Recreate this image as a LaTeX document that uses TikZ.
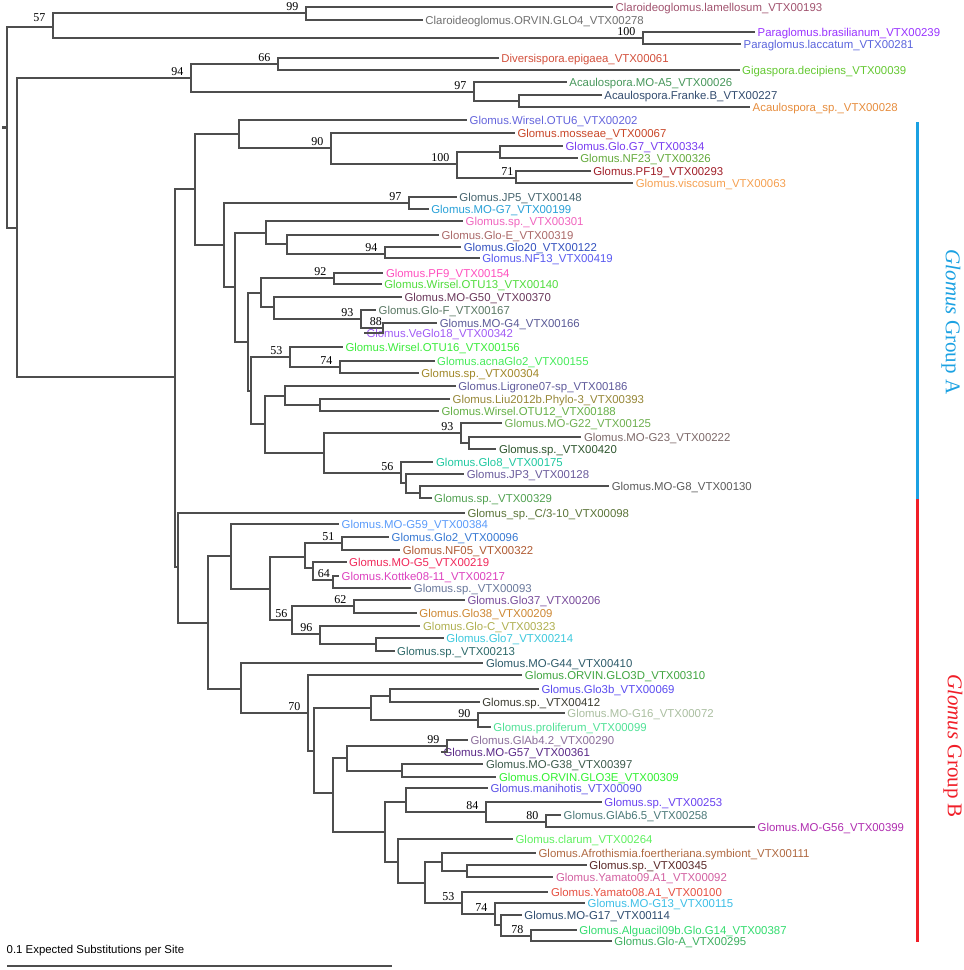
\documentclass[tikz,border=0pt]{standalone}
\usepackage{fontspec}
\setmainfont{Liberation Serif}
\setsansfont{Liberation Sans}
\definecolor{branchgray}{HTML}{4E4E4E}
\definecolor{groupA}{HTML}{1BA1E2}
\definecolor{groupB}{HTML}{F01E28}
\tikzset{
  branch/.style={branchgray,line width=1.8pt},
  leaf/.style={anchor=west,inner xsep=2.5pt,inner ysep=0pt,text height=8.2pt,text depth=0pt,
    font=\sffamily\fontsize{11.4}{12}\selectfont},
  boot/.style={anchor=south east,inner sep=0pt,xshift=-7.5pt,yshift=2pt,font=\fontsize{12}{12}\selectfont},
  grouplbl/.style={rotate=-90,inner sep=0pt,font=\fontsize{21}{21}\selectfont}
}
\begin{document}
\begin{tikzpicture}[x=1pt,y=-1pt]
    \useasboundingbox (0,0) rectangle (964,970);

    \foreach \n/\x/\y in {root/7.3/127, n57/53/26.7, n99a/305.7/13.3, n100a/642.7/37.7,
      nB0/16.7/228.3, n94/191/77.7, n66/277.7/64.3, n97a/474.3/92.3, nAc/519/100.7,
      nGl/175/377.3, nA/195.3/189.3, nA1/239/134, n90a/331/148, n100b/456.7/164,
      nG7/500.3/151.7, n71/515.9/178.3, nA2/223.6/244.7, n97b/408.6/202.7,
      nA3/234.7/287, nA4/265.8/232.7, nA5/286.5/244, n94b/385.3/254,
      nA6/247.7/342, nA7/260.6/292.7, n92/333.5/278.3, nA8/274.3/307.3,
      n93a/360.5/319.3, n88/382.7/328.3, nA9/251/390.5, n53a/289.9/357.3,
      n74a/340.2/366.7, nA10/265.1/424, nA11/284.7/396, nA12/319.8/405,
      nA13/324.3/452.7, n93b/461.1/432.7, nA14/469.3/442.7, n56a/400.8/472.7,
      nA15/405.6/483.3, nA16/420.4/492.7,
      nBg/178.3/567, nB1/208.3/622.7, nB2/231/555.7, nB3/269.9/589, nB4/304.7/556.7,
      n51/341.6/543.3, nB5/313.2/568.3, n64/332.8/580, n56b/291.7/620, n62/353.9/606,
      n96/319.5/634, nB6/376/644, nB7/241/688.5, n70/307.6/713.3, nB8/313.9/751,
      nB9/371.2/708.3, nB10/389.7/696, n90b/478.1/720, nB11/332.8/793.3,
      nB12/347.2/758.3, n99b/447.1/746, nB13/401.9/770.7, nB14/385.3/831.7,
      nB15/405.6/801.7, n84/485.5/811.7, n80/546.2/821.7, nB16/397.5/861.7,
      nB17/425/883.3, nB18/441.5/861.7, nB19/466.7/871, n53b/462.3/902.7,
      n74b/495/914, nB20/500.7/925, n78/530.7/936}
      \coordinate (\n) at ({round(\x)},{round(\y)});

    \foreach \p/\c in {root/n57, root/nB0, n57/n99a, n57/n100a, nB0/n94, nB0/nGl,
      n94/n66, n94/n97a, n97a/nAc, nGl/nA, nGl/nBg, nA/nA1, nA/nA2, nA1/n90a,
      n90a/n100b, n100b/nG7, n100b/n71, nA2/n97b, nA2/nA3, nA3/nA4, nA3/nA6,
      nA4/nA5, nA5/n94b, nA6/nA7, nA6/nA9, nA7/n92, nA7/nA8, nA8/n93a, n93a/n88,
      nA9/n53a, nA9/nA10, n53a/n74a, nA10/nA11, nA10/nA13, nA11/nA12, nA13/n93b,
      nA13/n56a, n93b/nA14, n56a/nA15, nA15/nA16,
      nBg/nB1, nB1/nB2, nB1/nB7, nB2/nB3, nB3/nB4, nB3/n56b, nB4/n51, nB4/nB5,
      nB5/n64, n56b/n62, n56b/n96, n96/nB6, nB7/n70, n70/nB8, nB8/nB9, nB8/nB11,
      nB9/nB10, nB9/n90b, nB11/nB12, nB11/nB14, nB12/n99b, nB12/nB13, nB14/nB15,
      nB14/nB16, nB15/n84, n84/n80, nB16/nB17, nB17/nB18, nB17/n53b, nB18/nB19,
      n53b/n74b, n74b/nB20, nB20/n78}
      \draw[branch] (\p) |- (\c);

    \coordinate (rtick) at (2,127);
    \draw[branchgray,line width=3pt] (rtick) -- (root);

    \foreach \p/\x/\y/\col/\txt [count=\i] in {
      n99a/613/7/A0526E/Claroideoglomus.lamellosum\_VTX00193,
      n99a/422.7/19.5/6E6E6E/Claroideoglomus.ORVIN.GLO4\_VTX00278,
      n100a/755/32/9933FF/Paraglomus.brasilianum\_VTX00239,
      n100a/741/44/5A64DC/Paraglomus.laccatum\_VTX00281,
      n66/498.7/58.3/D2503C/Diversispora.epigaea\_VTX00061,
      n66/739.5/69.5/64C832/Gigaspora.decipiens\_VTX00039,
      n97a/566.7/82.3/46965A/Acaulospora.MO-A5\_VTX00026,
      nAc/601.7/95.3/324B6E/Acaulospora.Franke.B\_VTX00227,
      nAc/750/107.3/E68C3C/Acaulospora\_sp.\_VTX00028,
      nA1/467/120/6464DC/Glomus.Wirsel.OTU6\_VTX00202,
      n90a/514.8/132.7/C84628/Glomus.mosseae\_VTX00067,
      nG7/562.9/146/783CF0/Glomus.Glo.G7\_VTX00334,
      nG7/577.6/157.7/64AA3C/Glomus.NF23\_VTX00326,
      n71/590.6/171/A01E28/Glomus.PF19\_VTX00293,
      n71/633.1/182.7/F5A050/Glomus.viscosum\_VTX00063,
      n97b/456.7/197.3/46646E/Glomus.JP5\_VTX00148,
      n97b/428.6/209/28A0D7/Glomus.MO-G7\_VTX00199,
      nA4/463/220.7/F064BE/Glomus.sp.\_VTX00301,
      nA5/438.9/235/AA6969/Glomus.Glo-E\_VTX00319,
      n94b/461.1/246.7/3250BE/Glomus.Glo20\_VTX00122,
      n94b/479.6/258.3/5A5AF0/Glomus.NF13\_VTX00419,
      n92/383.3/272.7/FF50BE/Glomus.PF9\_VTX00154,
      n92/381.6/284/50DC3C/Glomus.Wirsel.OTU13\_VTX00140,
      nA8/401.8/296.7/69375A/Glomus.MO-G50\_VTX00370,
      n93a/376/310/5A7864/Glomus.Glo-F\_VTX00167,
      n88/437.1/322.7/5A5A96/Glomus.MO-G4\_VTX00166,
      n88/363.8/333.3/A05AF5/Glomus.VeGlo18\_VTX00342,
      n53a/342.8/347.3/3CEB3C/Glomus.Wirsel.OTU16\_VTX00156,
      n74a/434.5/361/46EB5A/Glomus.acnaGlo2\_VTX00155,
      n74a/418.6/372.7/A08728/Glomus.sp.\_VTX00304,
      nA11/455.6/386/5F5A9B/Glomus.Ligrone07-sp\_VTX00186,
      nA12/450/399.3/968737/Glomus.Liu2012b.Phylo-3\_VTX00393,
      nA12/438.9/410.7/64AF46/Glomus.Wirsel.OTU12\_VTX00188,
      n93b/502/422.7/6EAF50/Glomus.MO-G22\_VTX00125,
      nA14/581.3/436.7/7D6969/Glomus.MO-G23\_VTX00222,
      nA14/496.3/448.7/2D552D/Glomus.sp.\_VTX00420,
      n56a/433.4/461.7/1EC8A0/Glomus.Glo8\_VTX00175,
      nA15/464.1/474/695A9B/Glomus.JP3\_VTX00128,
      nA16/609.1/486/5A5A5A/Glomus.MO-G8\_VTX00130,
      nA16/431.5/498.3/50A050/Glomus.sp.\_VTX00329,
      nBg/464.8/512.7/5A7337/{Glomus\_sp.\_C/3-10\_VTX00098},
      nB2/339/523.5/5A9BFA/Glomus.MO-G59\_VTX00384,
      n51/389/537.3/3778D2/Glomus.Glo2\_VTX00096,
      n51/400.1/550/AF5A32/Glomus.NF05\_VTX00322,
      nB5/346.5/561.7/F0285A/Glomus.MO-G5\_VTX00219,
      n64/339/575.7/DC41BE/Glomus.Kottke08-11\_VTX00217,
      n64/411.2/587.7/69789B/Glomus.sp.\_VTX00093,
      n62/464.8/600/784B9B/Glomus.Glo37\_VTX00206,
      n62/416.7/612.7/CD8732/Glomus.Glo38\_VTX00209,
      n96/420.4/626/AFAF50/Glomus.Glo-C\_VTX00323,
      nB6/443.7/638/3CC8DC/Glomus.Glo7\_VTX00214,
      nB6/394.5/650.7/2D6969/Glomus.sp.\_VTX00213,
      nB7/483.3/663.3/2D5A69/Glomus.MO-G44\_VTX00410,
      n70/522.2/675/41A541/Glomus.ORVIN.GLO3D\_VTX00310,
      nB10/538.8/689.3/5A4BF0/Glomus.Glo3b\_VTX00069,
      nB10/479.6/701.7/3C3C32/Glomus.sp.\_VTX00412,
      n90b/564.7/713.3/AABEA0/Glomus.MO-G16\_VTX00072,
      n90b/490.7/726.7/50E196/Glomus.proliferum\_VTX00099,
      n99b/467.8/740/8C6E9B/Glomus.GlAb4.2\_VTX00290,
      n99b/440.8/751.7/5A2887/Glomus.MO-G57\_VTX00361,
      nB13/483.3/764.3/3C5A4B/Glomus.MO-G38\_VTX00397,
      nB13/496.3/777.3/32F032/Glomus.ORVIN.GLO3E\_VTX00309,
      nB15/487.8/788.3/5A50E6/Glomus.manihotis\_VTX00090,
      n84/601.7/802.3/6941F0/Glomus.sp.\_VTX00253,
      n80/561/815/4B7878/Glomus.GlAb6.5\_VTX00258,
      n80/755/827/AF2DAF/Glomus.MO-G56\_VTX00399,
      nB16/512.9/839.3/5FF05F/Glomus.clarum\_VTX00264,
      nB18/535.9/853.3/AF6941/Glomus.Afrothismia.foertheriana.symbiont\_VTX00111,
      nB19/586.7/865/5A2828/Glomus.sp.\_VTX00345,
      nB19/553.3/877.3/D25FA0/Glomus.Yamato09.A1\_VTX00092,
      n53b/548.3/891.7/E65041/Glomus.Yamato08.A1\_VTX00100,
      n74b/585/902.7/3CBEE6/Glomus.MO-G13\_VTX00115,
      nB20/521.7/915/2D4B6E/Glomus.MO-G17\_VTX00114,
      n78/576.7/930/32DC6E/Glomus.Alguacil09b.Glo.G14\_VTX00387,
      n78/611.7/940.7/3CAF5F/Glomus.Glo-A\_VTX00295}{
      \node[leaf] (l\i) at ({\x},{round(\y)}) {\textcolor[HTML]{\col}{\txt}};
      \draw[branch] (\p) |- (l\i.west);
    }

    \foreach \n/\v in {n99a/99, n100a/100, n94/94, n66/66, n97a/97, n90a/90,
      n100b/100, n97b/97, n94b/94, n92/92, n93a/93, n53a/53, n74a/74, n93b/93,
      n56a/56, n51/51, n62/62, n96/96, n70/70, n90b/90, n99b/99, n84/84, n80/80,
      n53b/53, n74b/74, n78/78}
      \node[boot] at (\n) {\v};
    \node[boot,yshift=3pt] at (n57) {57};
    \node[boot,xshift=5pt] at (n71) {71};
    \node[boot,xshift=6.5pt] at (n88) {88};
    \node[boot,xshift=4.5pt] at (n64) {64};
    \node[boot,xshift=3pt] at (n56b) {56};

    \coordinate (gA0) at (917.5,122);
    \coordinate (gA1) at (917.5,499);
    \coordinate (gB1) at (917.5,942);
    \draw[groupA,line width=3pt] (gA0) -- (gA1);
    \draw[groupB,line width=3pt] (gA1) -- (gB1);
    \node[grouplbl,text=groupA] (glblA) at (951,322) {\textit{Glomus} Group A};
    \node[grouplbl,text=groupB] (glblB) at (953,746) {\textit{Glomus} Group B};

    \node[anchor=base west,inner sep=0pt,font=\sffamily\fontsize{11.4}{12}\selectfont] (scaletxt) at (6.5,953) {0.1 Expected Substitutions per Site};
    \coordinate (sb0) at (7,966);
    \coordinate (sb1) at (392,966);
    \draw[branch] (sb0) -- (sb1);
\end{tikzpicture}
\end{document}
